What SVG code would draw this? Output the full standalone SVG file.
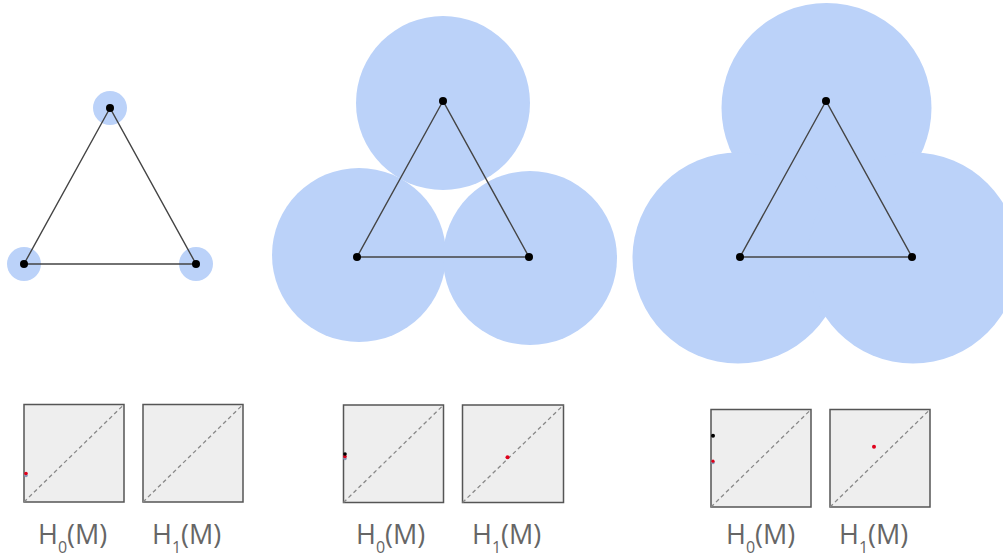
<svg xmlns="http://www.w3.org/2000/svg" width="1003" height="556" viewBox="0 0 1003 556">
<style>
.ball{fill:#bbd2f9;stroke:none}
.edge{stroke:#444;stroke-width:1.4;fill:none}
.node{fill:#000}
.box{fill:#eeeeee;stroke:#555;stroke-width:1.5}
.diag{stroke:#888;stroke-width:1.3;stroke-dasharray:4,3;fill:none}
.lbl{font-family:"Open Sans","Liberation Sans",sans-serif;font-size:27px;fill:#666}
.sub{font-size:16px}
.pr{fill:#e0001b}
.pb{fill:#000}
.pg{fill:#8a98b8}
</style>
<rect width="1003" height="556" fill="#fff"/>
<g id="balls-small">
<circle class="ball" cx="110" cy="108" r="17"/>
<circle class="ball" cx="24" cy="264" r="17"/>
<circle class="ball" cx="196" cy="264" r="17"/>
</g>
<g id="balls-medium">
<circle class="ball" cx="443" cy="103" r="87"/>
<circle class="ball" cx="359" cy="255" r="87"/>
<circle class="ball" cx="530" cy="258" r="87"/>
</g>
<g id="balls-large">
<circle class="ball" cx="826.5" cy="108" r="105"/>
<circle class="ball" cx="738" cy="258" r="105.5"/>
<circle class="ball" cx="913" cy="258" r="105.5"/>
</g>
<g id="connectors">
<polygon class="edge" points="110,108 24,264 196,264"/>
<polygon class="edge" points="443,101 357,257 529,257"/>
<polygon class="edge" points="826,101 740,257 912,257"/>
</g>
<g id="nodes-small">
<circle class="node" cx="110" cy="108" r="4"/>
<circle class="node" cx="24" cy="264" r="4"/>
<circle class="node" cx="196" cy="264" r="4"/>
</g>
<g id="nodes-medium">
<circle class="node" cx="443" cy="101" r="4"/>
<circle class="node" cx="357" cy="257" r="4"/>
<circle class="node" cx="529" cy="257" r="4"/>
</g>
<g id="nodes-large">
<circle class="node" cx="826" cy="101" r="4"/>
<circle class="node" cx="740" cy="257" r="4"/>
<circle class="node" cx="912" cy="257" r="4"/>
</g>
<g id="pd-1-h0">
<rect class="box" x="24" y="404.5" width="100" height="97.5"/>
<line class="diag" x1="24" y1="502" x2="124" y2="404.5"/>
<circle class="pg" cx="26" cy="475.5" r="1.8"/>
<circle class="pr" cx="26" cy="473.5" r="1.8"/>
</g>
<g id="pd-1-h1">
<rect class="box" x="143" y="404.5" width="100" height="97.5"/>
<line class="diag" x1="143" y1="502" x2="243" y2="404.5"/>
</g>
<g id="pd-2-h0">
<rect class="box" x="343.5" y="405" width="100" height="97.5"/>
<line class="diag" x1="343.5" y1="502.5" x2="443.5" y2="405"/>
<circle class="pg" cx="345" cy="458.5" r="1.8"/>
<circle class="pr" cx="345" cy="456.5" r="1.8"/>
<circle class="pb" cx="345" cy="454" r="1.8"/>
</g>
<g id="pd-2-h1">
<rect class="box" x="462.5" y="405" width="101" height="97.5"/>
<line class="diag" x1="462.5" y1="502.5" x2="563.5" y2="405"/>
<circle class="pr" cx="507.5" cy="457.3" r="2"/>
</g>
<g id="pd-3-h0">
<rect class="box" x="711" y="409.5" width="100" height="97.5"/>
<line class="diag" x1="711" y1="507" x2="811" y2="409.5"/>
<circle class="pb" cx="713" cy="435.7" r="2"/>
<circle class="pg" cx="713" cy="462.5" r="1.8"/>
<circle class="pr" cx="713" cy="461.2" r="1.6"/>
</g>
<g id="pd-3-h1">
<rect class="box" x="830" y="409.5" width="100" height="97.5"/>
<line class="diag" x1="830" y1="507" x2="930" y2="409.5"/>
<circle class="pr" cx="874" cy="446.7" r="2"/>
</g>
<g id="labels">
<text class="lbl" x="38" y="544">H<tspan class="sub" dy="9">0</tspan><tspan dy="-9">(M)</tspan></text>
<text class="lbl" x="152" y="544">H<tspan class="sub" dy="9">1</tspan><tspan dy="-9">(M)</tspan></text>
<text class="lbl" x="356" y="544">H<tspan class="sub" dy="9">0</tspan><tspan dy="-9">(M)</tspan></text>
<text class="lbl" x="472" y="544">H<tspan class="sub" dy="9">1</tspan><tspan dy="-9">(M)</tspan></text>
<text class="lbl" x="726" y="544">H<tspan class="sub" dy="9">0</tspan><tspan dy="-9">(M)</tspan></text>
<text class="lbl" x="839" y="544">H<tspan class="sub" dy="9">1</tspan><tspan dy="-9">(M)</tspan></text>
</g>
</svg>
